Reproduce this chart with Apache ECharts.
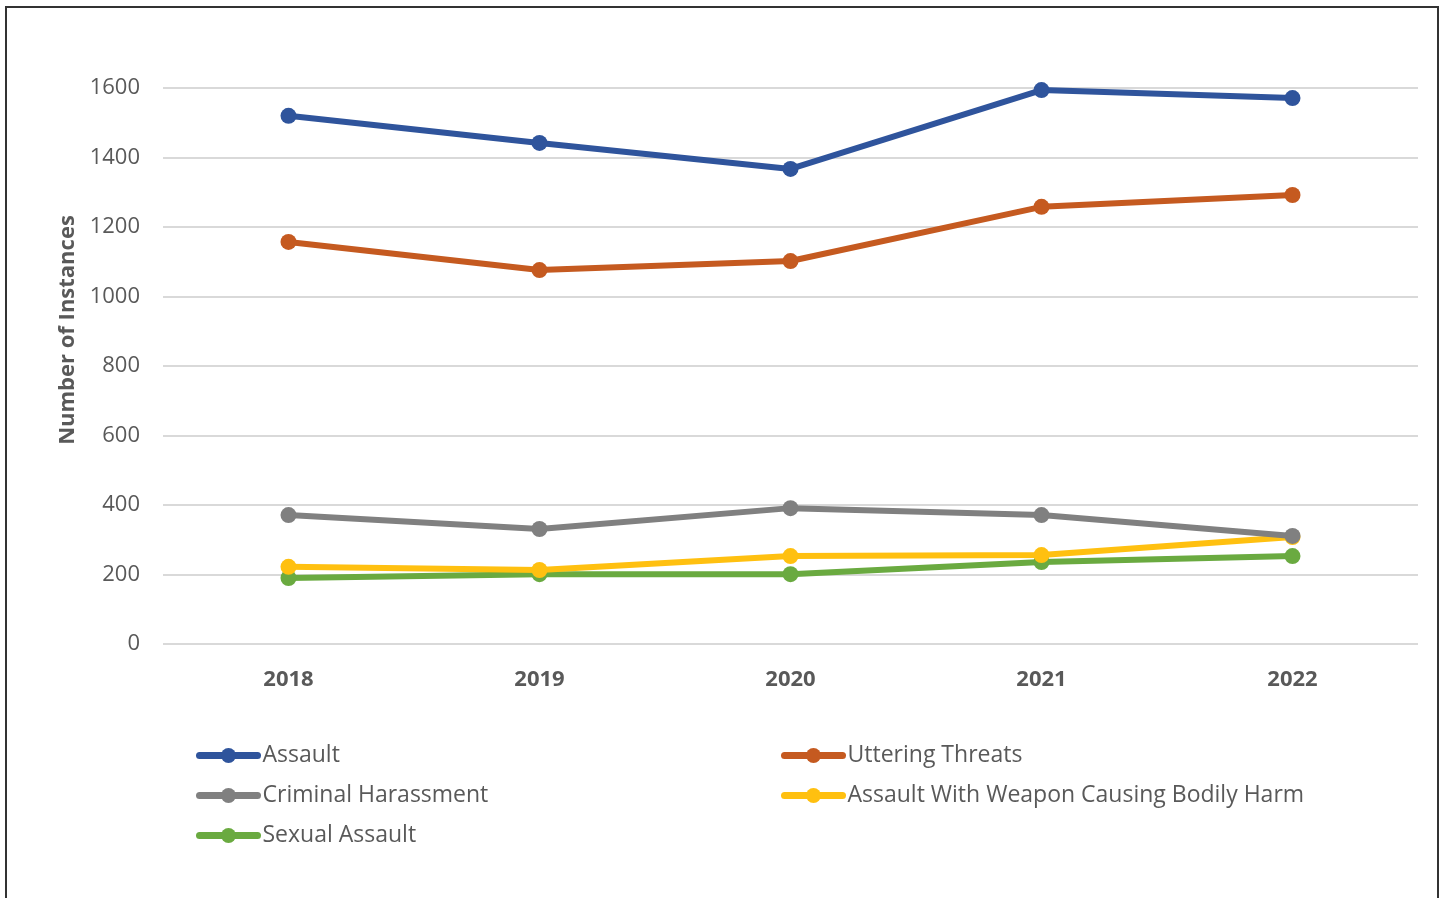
<!DOCTYPE html>
<html>
<head>
<meta charset="utf-8">
<script src="https://cdn.jsdelivr.net/npm/echarts@6/dist/echarts.min.js"></script>
<style>
	html, body { margin: 0; padding: 0; background: #fff; }
	#frame {
		position: absolute; left: 5px; top: 6px; width: 1434px; height: 900px;
		border: 2px solid #333; border-bottom: none; box-sizing: border-box;
	}
	#chart { position: absolute; left: 0; top: 0; width: 1446px; height: 898px; }
</style>
</head>
<body>
<div id="frame"></div>
<div id="chart"></div>
<script>
var years = ['2018', '2019', '2020', '2021', '2022'];
var assault = [1520, 1442, 1367, 1594, 1571];
var utteringThreats = [1157, 1076, 1102, 1258, 1292];
var criminalHarassment = [371, 331, 391, 371, 311];
var assaultWeapon = [222, 213, 253, 256, 308];
var sexualAssault = [190, 201, 201, 236, 253];

var seriesNames = ['Assault', 'Uttering Threats', 'Criminal Harassment',
	'Assault With Weapon Causing Bodily Harm', 'Sexual Assault'];
var seriesData = [assault, utteringThreats, criminalHarassment, assaultWeapon, sexualAssault];
var seriesColors = ['#2f549c', '#c55a20', '#808080', '#ffc010', '#6aaa40'];

var legendText = {
	color: '#595959',
	fontSize: 23,
	fontFamily: 'Open Sans'
};

function makeLegend(left, names) {
	return {
		left: left,
		top: 744,
		padding: 0,
		orient: 'vertical',
		itemWidth: 58,
		itemHeight: 19,
		itemGap: 17,
		textStyle: legendText,
		lineStyle: { width: 7, cap: 'round' },
		data: names
	};
}

echarts.init(document.getElementById('chart')).setOption({
	animation: false,
	grid: {
		left: 163,
		right: 28,
		top: 88,
		bottom: 254
	},
	legend: [
		makeLegend(196, ['Assault', 'Criminal Harassment', 'Sexual Assault']),
		makeLegend(781, ['Uttering Threats', 'Assault With Weapon Causing Bodily Harm'])
	],
	xAxis: {
		type: 'category',
		data: years,
		boundaryGap: true,
		axisLine: { show: false },
		axisTick: { show: false },
		axisLabel: {
			margin: 25,
			color: '#595959',
			fontSize: 22,
			fontWeight: 'bold',
			fontFamily: 'Open Sans'
		}
	},
	yAxis: {
		type: 'value',
		min: 0,
		max: 1600,
		interval: 200,
		name: 'Number of Instances',
		nameLocation: 'middle',
		nameGap: 84,
		nameTextStyle: {
			color: '#595959',
			fontSize: 22,
			fontWeight: 'bold',
			fontFamily: 'Open Sans',
			padding: [0, 0, 0, 72]
		},
		axisLabel: {
			margin: 23,
			color: '#595959',
			fontSize: 22,
			fontFamily: 'Open Sans',
			formatter: function(v) { return String(v); }
		},
		splitLine: {
			lineStyle: { color: '#d9d9d9', width: 2 }
		}
	},
	series: seriesNames.map(function(name, i) {
		return {
			name: name,
			type: 'line',
			data: seriesData[i],
			symbol: 'circle',
			symbolSize: 16,
			z: 10 - i,
			itemStyle: { color: seriesColors[i] },
			lineStyle: { color: seriesColors[i], width: 6 }
		};
	})
});
</script>
</body>
</html>
